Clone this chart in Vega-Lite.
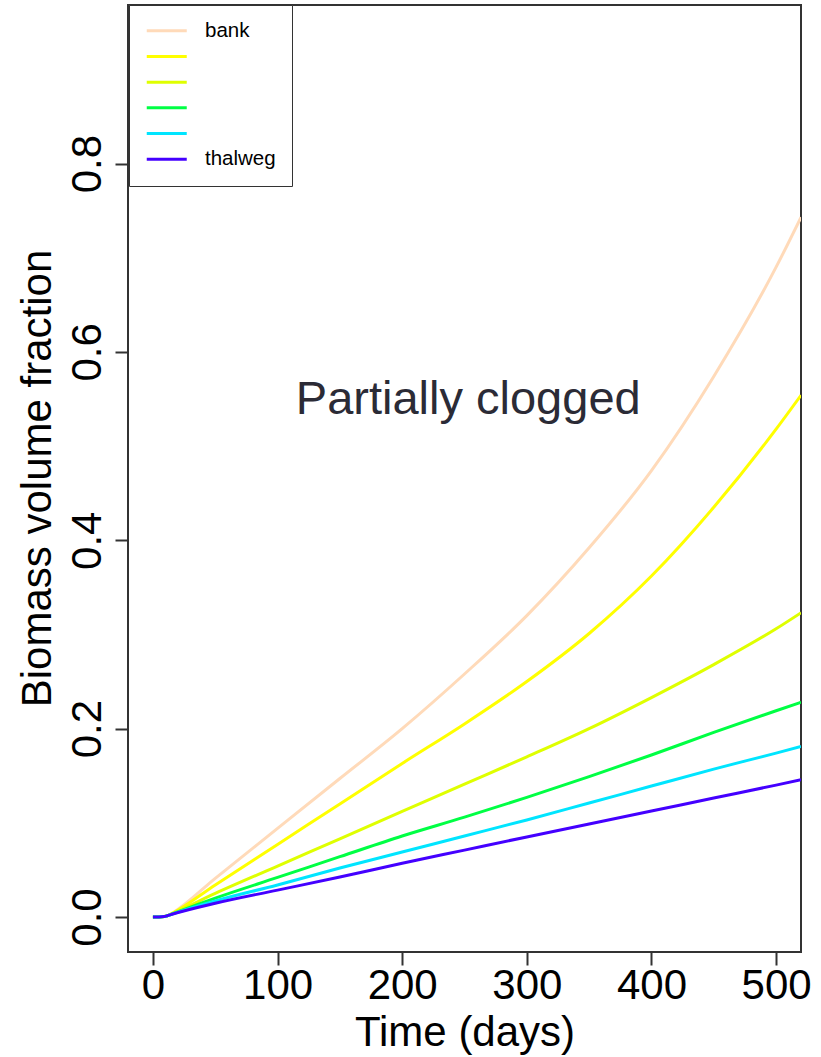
{
  "$schema": "https://vega.github.io/schema/vega-lite/v6.json",
  "width": 673,
  "height": 947,
  "autosize": {"type": "none"},
  "padding": {"left": 128, "top": 5, "right": 20, "bottom": 105},
  "background": "white",
  "config": {
    "font": "Liberation Sans",
    "view": {"stroke": "#333333", "strokeWidth": 2},
    "axis": {"grid": false, "domain": false, "tickColor": "#333333", "tickWidth": 2, "labelColor": "black", "titleColor": "black", "labelFont": "Liberation Sans", "titleFont": "Liberation Sans", "titleFontWeight": "normal"}
  },
  "datasets": {
    "curves": [
      {"d": 0, "v": 0, "s": "bank"}, {"d": 5, "v": 0, "s": "bank"}, {"d": 9, "v": 0.0004, "s": "bank"}, {"d": 12, "v": 0.0015, "s": "bank"}, {"d": 16, "v": 0.0045, "s": "bank"}, {"d": 50, "v": 0.041, "s": "bank"}, {"d": 100, "v": 0.094, "s": "bank"}, {"d": 150, "v": 0.147, "s": "bank"}, {"d": 200, "v": 0.2, "s": "bank"}, {"d": 250, "v": 0.258, "s": "bank"}, {"d": 300, "v": 0.32, "s": "bank"}, {"d": 350, "v": 0.392, "s": "bank"}, {"d": 400, "v": 0.474, "s": "bank"}, {"d": 450, "v": 0.574, "s": "bank"}, {"d": 500, "v": 0.69, "s": "bank"}, {"d": 520, "v": 0.743, "s": "bank"},
      {"d": 0, "v": 0, "s": "s2"}, {"d": 5, "v": 0, "s": "s2"}, {"d": 9, "v": 0.0004, "s": "s2"}, {"d": 12, "v": 0.0015, "s": "s2"}, {"d": 16, "v": 0.0042, "s": "s2"}, {"d": 50, "v": 0.034, "s": "s2"}, {"d": 100, "v": 0.077, "s": "s2"}, {"d": 150, "v": 0.12, "s": "s2"}, {"d": 200, "v": 0.163, "s": "s2"}, {"d": 250, "v": 0.205, "s": "s2"}, {"d": 300, "v": 0.25, "s": "s2"}, {"d": 350, "v": 0.301, "s": "s2"}, {"d": 400, "v": 0.362, "s": "s2"}, {"d": 450, "v": 0.435, "s": "s2"}, {"d": 500, "v": 0.518, "s": "s2"}, {"d": 520, "v": 0.554, "s": "s2"},
      {"d": 0, "v": 0, "s": "s3"}, {"d": 5, "v": 0, "s": "s3"}, {"d": 9, "v": 0.0004, "s": "s3"}, {"d": 12, "v": 0.0015, "s": "s3"}, {"d": 16, "v": 0.0038, "s": "s3"}, {"d": 50, "v": 0.025, "s": "s3"}, {"d": 100, "v": 0.054, "s": "s3"}, {"d": 150, "v": 0.083, "s": "s3"}, {"d": 200, "v": 0.112, "s": "s3"}, {"d": 250, "v": 0.141, "s": "s3"}, {"d": 300, "v": 0.17, "s": "s3"}, {"d": 350, "v": 0.2, "s": "s3"}, {"d": 400, "v": 0.233, "s": "s3"}, {"d": 450, "v": 0.268, "s": "s3"}, {"d": 500, "v": 0.306, "s": "s3"}, {"d": 520, "v": 0.323, "s": "s3"},
      {"d": 0, "v": 0, "s": "s4"}, {"d": 5, "v": 0, "s": "s4"}, {"d": 9, "v": 0.0004, "s": "s4"}, {"d": 12, "v": 0.0015, "s": "s4"}, {"d": 16, "v": 0.0035, "s": "s4"}, {"d": 50, "v": 0.02, "s": "s4"}, {"d": 100, "v": 0.042, "s": "s4"}, {"d": 150, "v": 0.064, "s": "s4"}, {"d": 200, "v": 0.086, "s": "s4"}, {"d": 250, "v": 0.106, "s": "s4"}, {"d": 300, "v": 0.127, "s": "s4"}, {"d": 350, "v": 0.149, "s": "s4"}, {"d": 400, "v": 0.172, "s": "s4"}, {"d": 450, "v": 0.196, "s": "s4"}, {"d": 500, "v": 0.219, "s": "s4"}, {"d": 520, "v": 0.228, "s": "s4"},
      {"d": 0, "v": 0, "s": "s5"}, {"d": 5, "v": 0, "s": "s5"}, {"d": 9, "v": 0.0004, "s": "s5"}, {"d": 12, "v": 0.0015, "s": "s5"}, {"d": 16, "v": 0.0033, "s": "s5"}, {"d": 50, "v": 0.017, "s": "s5"}, {"d": 100, "v": 0.034, "s": "s5"}, {"d": 150, "v": 0.052, "s": "s5"}, {"d": 200, "v": 0.069, "s": "s5"}, {"d": 250, "v": 0.086, "s": "s5"}, {"d": 300, "v": 0.103, "s": "s5"}, {"d": 350, "v": 0.121, "s": "s5"}, {"d": 400, "v": 0.139, "s": "s5"}, {"d": 450, "v": 0.157, "s": "s5"}, {"d": 500, "v": 0.174, "s": "s5"}, {"d": 520, "v": 0.181, "s": "s5"},
      {"d": 0, "v": 0, "s": "thalweg"}, {"d": 5, "v": 0, "s": "thalweg"}, {"d": 9, "v": 0.0004, "s": "thalweg"}, {"d": 12, "v": 0.0015, "s": "thalweg"}, {"d": 16, "v": 0.0031, "s": "thalweg"}, {"d": 50, "v": 0.0145, "s": "thalweg"}, {"d": 100, "v": 0.0285, "s": "thalweg"}, {"d": 150, "v": 0.0425, "s": "thalweg"}, {"d": 200, "v": 0.057, "s": "thalweg"}, {"d": 250, "v": 0.071, "s": "thalweg"}, {"d": 300, "v": 0.085, "s": "thalweg"}, {"d": 350, "v": 0.0988, "s": "thalweg"}, {"d": 400, "v": 0.1125, "s": "thalweg"}, {"d": 450, "v": 0.1263, "s": "thalweg"}, {"d": 500, "v": 0.1400, "s": "thalweg"}, {"d": 520, "v": 0.1457, "s": "thalweg"}
    ],
    "notes": [
      {"d": 253, "v": 0.534, "label": "Partially clogged"}
    ]
  },
  "layer": [
    {
      "data": {"name": "curves"},
      "mark": {"type": "line", "strokeWidth": 3, "interpolate": "monotone", "clip": true},
      "encoding": {
        "x": {
          "field": "d", "type": "quantitative",
          "scale": {"domain": [-20, 520], "nice": false, "zero": false},
          "axis": {"values": [0, 100, 200, 300, 400, 500], "tickSize": 13, "labelFontSize": 42, "labelPadding": 0, "title": "Time (days)", "titleFontSize": 42, "titleBaseline": "alphabetic", "titleY": 93, "titleX": 336.5, "titleAlign": "center"}
        },
        "y": {
          "field": "v", "type": "quantitative",
          "scale": {"domain": [-0.0372, 0.9684], "nice": false, "zero": false},
          "axis": {"values": [0, 0.2, 0.4, 0.6, 0.8], "format": ".1f", "tickSize": 13, "labelFontSize": 42, "labelAngle": 270, "labelAlign": "center", "labelBaseline": "alphabetic", "labelPadding": 15, "title": "Biomass volume fraction", "titleFontSize": 42, "titleAngle": 270, "titleBaseline": "alphabetic", "titleAlign": "center", "titleX": -78, "titleY": 473}
        },
        "color": {
          "field": "s", "type": "nominal",
          "scale": {"domain": ["bank", "s2", "s3", "s4", "s5", "thalweg"], "range": ["#FFDAB9", "#FFFF00", "#DFFF00", "#00FF44", "#00E5FF", "#4400FF"]},
          "legend": {
            "orient": "none", "legendX": 1, "legendY": 0, "title": null,
            "strokeColor": "#333333", "fillColor": "white", "padding": 15.5, "cornerRadius": 0,
            "symbolType": "M-4,0H4", "symbolSize": 100, "symbolStrokeWidth": 3, "symbolOffset": 12,
            "labelFontSize": 20.5, "labelOffset": 28, "labelColor": "black", "rowPadding": 4.7,
            "labelExpr": "indexof(['bank','thalweg'], datum.value) >= 0 ? datum.value : ''"
          }
        },
        "order": {"field": "d", "type": "quantitative"}
      }
    },
    {
      "data": {"name": "notes"},
      "mark": {"type": "text", "fontSize": 47, "font": "Liberation Sans", "color": "#2B2B36", "align": "center", "baseline": "alphabetic"},
      "encoding": {
        "x": {"field": "d", "type": "quantitative"},
        "y": {"field": "v", "type": "quantitative"},
        "text": {"field": "label"}
      }
    }
  ]
}
